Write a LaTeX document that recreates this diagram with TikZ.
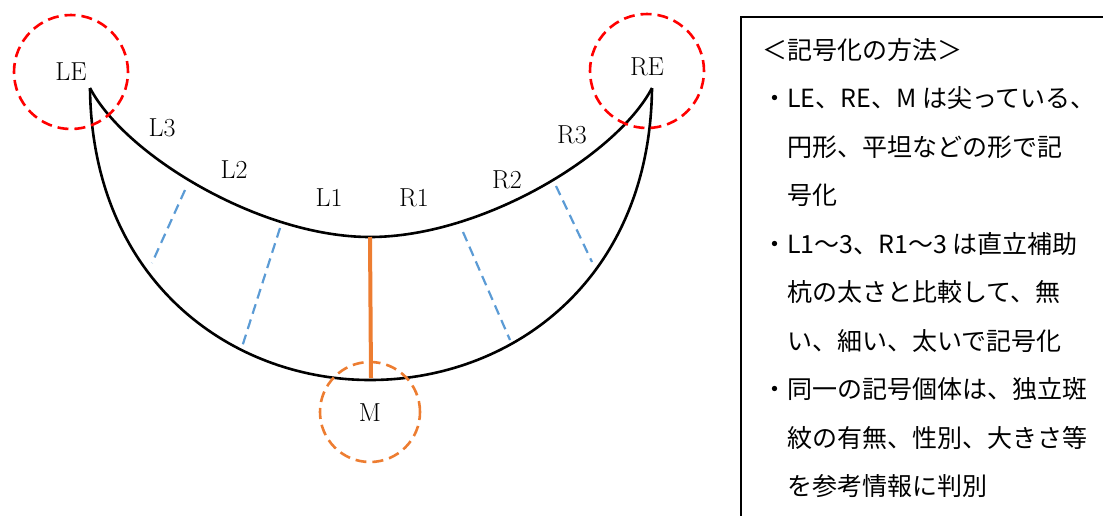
\documentclass[tikz,border=0pt]{standalone}
\usepackage{fontspec}
\newfontfamily\jpfont{Noto Sans CJK JP}
\usepackage{tikz}
\usetikzlibrary{positioning, calc}
\definecolor{markred}{RGB}{255, 0, 0}
\definecolor{offorange}{RGB}{237, 125, 49}
\definecolor{offblue}{RGB}{91, 155, 213}

\begin{document}
\begin{tikzpicture}[
    x=1pt, y=-1pt,
    shell/.style={draw=black, line width=2.6pt},
    ring/.style={circle, draw, dashed, line width=2.6pt, dash pattern=on 11pt off 6pt},
    seg/.style={draw=offblue, line width=2.2pt, dash pattern=on 10pt off 6pt},
    lbl/.style={font=\fontsize{26}{30}\selectfont, inner sep=0pt}
]
\useasboundingbox (0,0) rectangle (1103,515);

% tips of the crescent
\coordinate (le) at (90,88);
\coordinate (re) at (652,88);
\coordinate (mtop) at (370,237);
\coordinate (mbot) at (371,378);

% outer and inner outline
\draw[shell] (le) .. controls (92,280) and (230,380) .. (370,380)
                  .. controls (512,380) and (650,280) .. (re);
\draw[shell] (le) .. controls (125,155) and (260,237) .. (mtop)
                  .. controls (482,237) and (617,155) .. (re);

% stake lines
\coordinate (l3a) at (185,190);  \coordinate (l3b) at (152,263);
\coordinate (l2a) at (280,228);  \coordinate (l2b) at (242,347);
\coordinate (r2a) at (463,232);  \coordinate (r2b) at (510,340);
\coordinate (r3a) at (556,186);  \coordinate (r3b) at (592,262);
\draw[seg] (l3a) -- (l3b);
\draw[seg] (l2a) -- (l2b);
\draw[seg] (r2a) -- (r2b);
\draw[seg] (r3a) -- (r3b);
\draw[offorange, line width=4pt] (mtop) -- (mbot);

% marked regions
\node[ring, draw=markred, minimum size=114pt] (lering) at (71,72) {};
\node[ring, draw=markred, minimum size=114pt] (rering) at (647,71) {};
\node[ring, draw=offorange, minimum size=100pt] (mring) at (370,412) {};

\node[lbl] (lelbl) at (71,72) {LE};
\node[lbl] (relbl) at (647,67) {RE};
\node[lbl] (mlbl) at (370,413) {M};
\node[lbl] (l3) at (162,128) {L3};
\node[lbl] (l2) at (234,170) {L2};
\node[lbl] (l1) at (329,198) {L1};
\node[lbl] (r1) at (414,198) {R1};
\node[lbl] (r2) at (507,180) {R2};
\node[lbl] (r3) at (572,135) {R3};

% legend box
\draw[line width=1.4pt] (741,540) -- (741,17) -- (1120,17);
\node[anchor=north west, align=left, inner sep=0pt,
      font=\jpfont\fontsize{25}{48.5}\selectfont] (howto) at (762,38)
  {＜記号化の方法＞\\
   ・LE、RE、M は尖っている、\\
   \hspace*{1em}円形、平坦などの形で記\\
   \hspace*{1em}号化\\
   ・L1～3、R1～3 は直立補助\\
   \hspace*{1em}杭の太さと比較して、無\\
   \hspace*{1em}い、細い、太いで記号化\\
   ・同一の記号個体は、独立斑\\
   \hspace*{1em}紋の有無、性別、大きさ等\\
   \hspace*{1em}を参考情報に判別};
\end{tikzpicture}
\end{document}
